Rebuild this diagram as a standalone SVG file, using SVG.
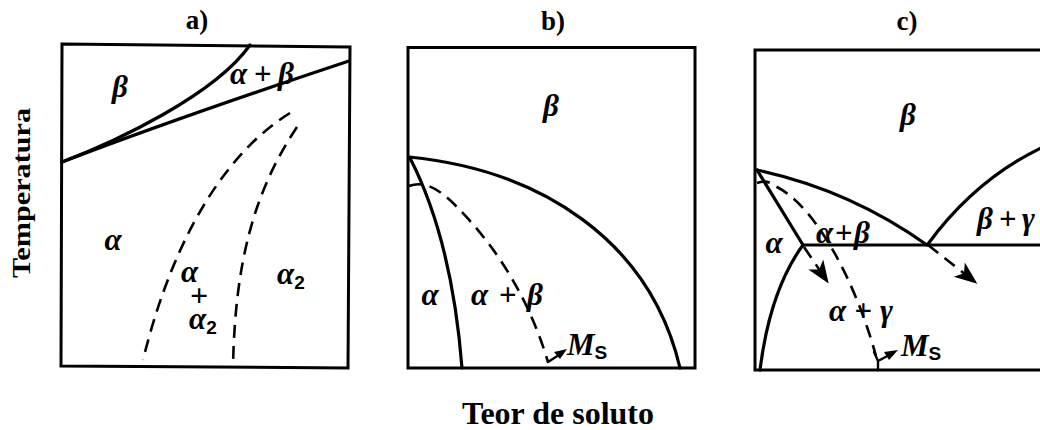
<svg xmlns="http://www.w3.org/2000/svg" width="1040" height="430" viewBox="0 0 1040 430">
<style>
.box{fill:none;stroke:#000;stroke-width:3}
.solid{fill:none;stroke:#000;stroke-width:3.2;stroke-linecap:round}
.dash{fill:none;stroke:#000;stroke-width:2.6;stroke-dasharray:13 8}
.thin{fill:none;stroke:#000;stroke-width:2.4;stroke-linecap:round;stroke-linejoin:round}
.lbl{font-family:"Liberation Serif","DejaVu Serif",serif;font-style:italic;font-weight:bold;font-size:31px;fill:#000}
.sub{font-family:"Liberation Sans","DejaVu Sans",sans-serif;font-style:normal;font-weight:bold;font-size:19px;fill:#000}
.ttl{font-family:"Liberation Serif","DejaVu Serif",serif;font-weight:bold;fill:#000}
</style>
<defs>
<marker id="ah" markerUnits="userSpaceOnUse" markerWidth="28" markerHeight="24" viewBox="-24 -12 28 24" refX="0" refY="0" orient="auto">
<path d="M3,0 L-20,-9 L-14,0 L-20,9 Z" fill="#000"/>
</marker>
</defs>
<rect width="1040" height="430" fill="#fff"/>

<g id="axes">
<text class="ttl" font-size="31" x="558" y="424" text-anchor="middle" textLength="192" lengthAdjust="spacingAndGlyphs">Teor de soluto</text>
<text class="ttl" font-size="26" transform="translate(30,193) rotate(-90)" text-anchor="middle" textLength="170" lengthAdjust="spacingAndGlyphs">Temperatura</text>
</g>

<g id="panel-a">
<text class="ttl" font-size="27" x="197" y="29" text-anchor="middle">a)</text>
<path class="box" d="M62,44 L350,47 L348,368 L61,366 Z"/>
<path class="solid" d="M62,162 C115,142 215,95 250,45"/>
<path class="solid" d="M62,162 Q180,117 349,61"/>
<path class="dash" d="M290,113 C230,150 175,230 143,360"/>
<path class="dash" d="M297,127 C255,190 235,260 233,367"/>
<text class="lbl" x="120" y="97" text-anchor="middle">β</text>
<text class="lbl" x="262" y="84" text-anchor="middle" textLength="64" lengthAdjust="spacing">α+β</text>
<text class="lbl" x="113" y="250" text-anchor="middle">α</text>
<text class="lbl"><tspan x="181" y="282">α</tspan><tspan x="190" y="306" font-style="normal" font-size="32">+</tspan><tspan x="189" y="329">α<tspan class="sub" dy="5">2</tspan></tspan></text>
<text class="lbl" x="277" y="284">α<tspan class="sub" dy="5">2</tspan></text>
</g>

<g id="panel-b">
<text class="ttl" font-size="27" x="553" y="30" text-anchor="middle">b)</text>
<rect class="box" x="408" y="47.5" width="287" height="320.5"/>
<path class="solid" d="M409,157 C540,170 650,240 680,368"/>
<path class="solid" d="M410,158 Q452,240 462,368"/>
<path class="dash" d="M409,186 C425,180 440,190 455,205 C485,235 525,285 548,362"/>
<path class="thin" d="M548,362 L562,353"/>
<path d="M554,352 L567,349 L560,359 Z" fill="#000"/>
<text class="lbl" x="551" y="116" text-anchor="middle">β</text>
<text class="lbl" x="430" y="305" text-anchor="middle">α</text>
<text class="lbl" x="507" y="305" text-anchor="middle" textLength="72" lengthAdjust="spacing">α+β</text>
<text class="lbl" x="567" y="355" font-size="28">M<tspan class="sub" dy="4">S</tspan></text>
</g>

<g id="panel-c">
<text class="ttl" font-size="27" x="907" y="30" text-anchor="middle">c)</text>
<path class="box" d="M1042,50 L755,50 L755,370 L1042,370"/>
<path class="solid" d="M757,170 Q850,190 927,245"/>
<path class="solid" d="M928,244 Q975,180 1041,148"/>
<path class="solid" d="M803,245 L1041,245"/>
<path class="solid" d="M757,170 L803,245"/>
<path class="solid" d="M803,245 Q770,290 760,370"/>
<path class="dash" d="M757,183 C765,180 770,182 775,186 C815,205 855,280 876,356"/>
<path class="dash" d="M928,245 L975,282" marker-end="url(#ah)"/>
<path class="dash" d="M804,247 L827,281" marker-end="url(#ah)"/>
<path class="thin" d="M874,352 L878,361 L878,370 M878,361 L893,353"/>
<path d="M884,352 L898,350 L889,360 Z" fill="#000"/>
<text class="lbl" x="908" y="125" text-anchor="middle">β</text>
<text class="lbl" x="1006" y="229" text-anchor="middle" textLength="58" lengthAdjust="spacing">β+γ</text>
<text class="lbl" x="843" y="243" text-anchor="middle" textLength="54" lengthAdjust="spacing">α+β</text>
<text class="lbl" x="774" y="253" text-anchor="middle">α</text>
<text class="lbl" x="861" y="321" text-anchor="middle" textLength="64" lengthAdjust="spacing">α+γ</text>
<text class="lbl" x="901" y="356" font-size="28">M<tspan class="sub" dy="4">S</tspan></text>
</g>
</svg>
